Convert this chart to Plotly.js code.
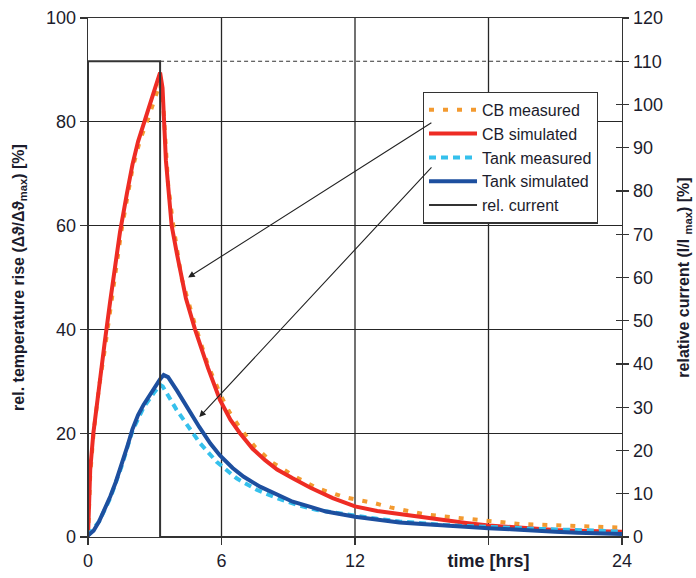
<!DOCTYPE html>
<html><head><meta charset="utf-8">
<script src="https://cdn.plot.ly/plotly-3.0.1.min.js"></script>
<style>body{margin:0;background:#fff}#chart{width:696px;height:578px}</style>
</head><body><div id="chart"></div>
<script>
// time [hrs] and relative temperature rise [%]
const cbMeasT = [0,0.1,0.25,0.5,0.75,1.0,1.5,2.0,2.34,2.71,3.09,3.24,3.4,3.6,3.8,4.2,4.8,5.4,6.0,6.38,6.9,7.5,8.3,9.4,10.3,11.5,12.2,12.9,13.6,14.4,15.1,15.7,16.4,17.4,18.1,18.7,19.4,20.1,20.8,21.6,22.1,22.9,23.5,24];
const cbMeasV = [0,12,20,29,36,44,59,71,76.5,80.7,85.2,87.5,82,68,61,50,41,33,27,23.9,20.6,17.4,14.3,11.4,9.4,7.7,7.1,6.5,5.7,5.0,4.4,4.1,3.8,3.4,3.1,2.8,2.5,2.4,2.3,2.1,2.1,2.1,1.9,1.8];

const cbSimT = [0,0.05,0.1,0.24,0.4,0.54,0.75,1.0,1.25,1.44,1.75,2.0,2.25,2.56,2.8,3.0,3.24,3.35,3.5,3.76,4.0,4.4,4.81,5.4,5.93,6.4,6.83,7.4,7.96,8.5,9.2,10,11,12,13,14,15,16,17,18,19,20,21,22,23,24];
const cbSimV = [0,8,13,20,26,30.5,37.5,45.5,53,58.8,66.2,71.8,76.2,80.6,83.7,86.3,89.5,86.5,72.6,60,54.5,46,40,32.5,26.4,22.6,20,17,14.8,13,11.3,9.5,7.5,5.9,5.0,4.4,3.9,3.3,2.7,2.2,1.9,1.6,1.35,1.2,1.1,1.0];

const tankMeasT = [0,0.5,1.0,1.5,2.0,2.5,3.0,3.24,3.36,3.98,5.03,5.78,6.68,7.58,8.48,9.38,10.3,11.2,12,13,14,15,16,17,18,19,20,21,22,23,24];
const tankMeasV = [0.3,3,7.5,13.5,20.5,25,28,29.3,29,24.5,18.1,14.5,11.3,9.1,7.5,6.2,5.2,4.6,4.1,3.5,3.0,2.6,2.3,2.1,2.0,1.8,1.6,1.5,1.4,1.2,1.0];

const tankSimT = [0,0.25,0.5,0.75,1.0,1.25,1.5,1.75,2.0,2.25,2.5,2.75,3.0,3.24,3.4,3.6,4.0,4.43,5.0,5.5,5.93,6.5,7.0,7.73,8.5,9.2,10,10.7,12,13,14,15,16,17,18,19,20,21,22,23,24];
const tankSimV = [0.3,1.2,3,5.3,7.8,10.6,13.8,17.2,20.8,23.5,25.5,27.2,28.8,30.4,31.2,30.8,28.2,25.1,21.2,18,15.7,13.3,11.6,9.7,8.1,6.8,5.8,4.9,3.9,3.3,2.8,2.5,2.2,1.9,1.7,1.5,1.2,1.0,0.8,0.7,0.6];

// relative current [%] (right axis)
const currentT = [0,0,3.24,3.24,24];
const currentV = [0,110,110,0,0];
const currentRefT = [3.24,24];
const currentRefV = [110,110];

// tick labels
const xTickVals = [0,6,12,18,24];
const xTickText = ['0','6','12','<b>time [hrs]</b>','24'];
const xGridVals = [6,12,18];
const yTickVals = [0,20,40,60,80,100];
const y2TickVals = [0,10,20,30,40,50,60,70,80,90,100,110,120];

// arrows: [tailT, tailV, headT, headV]
const arrowCB = [15.5,80,4.5,50];
const arrowTank = [15.5,71.5,5.0,23.1];

const FONT = 'Liberation Sans, Arial, sans-serif';
const TXT = '#1c1c2c';
const GRID = '#262626';

const traces = [
  {x: cbMeasT, y: cbMeasV, name: 'CB measured', mode: 'lines',
   line: {color: '#f39a30', width: 4, dash: '5px,9px'}},
  {x: cbSimT, y: cbSimV, name: 'CB simulated', mode: 'lines',
   line: {color: '#ee2c24', width: 4}},
  {x: tankMeasT, y: tankMeasV, name: 'Tank measured', mode: 'lines',
   line: {color: '#35c0ec', width: 4, dash: '7px,5px'}},
  {x: tankSimT, y: tankSimV, name: 'Tank simulated', mode: 'lines',
   line: {color: '#1d4f9f', width: 4}},
  {x: currentT, y: currentV, name: 'rel. current', mode: 'lines', yaxis: 'y2',
   line: {color: '#333', width: 2}},
  {x: currentRefT, y: currentRefV, showlegend: false, mode: 'lines', yaxis: 'y2',
   line: {color: '#333', width: 1, dash: '4px,3px'}},
  {x: [], y: [], showlegend: false, yaxis: 'y3'}
];

function arrow(a) {
  return {x: a[2], y: a[3], ax: a[0], ay: a[1], xref: 'x', yref: 'y', axref: 'x', ayref: 'y',
    text: '', showarrow: true, arrowhead: 2, arrowsize: 1.2, arrowwidth: 1.1, arrowcolor: '#222'};
}

const gridShapes = xGridVals.map(v => ({type: 'line', layer: 'below', xref: 'x', yref: 'paper',
  x0: v, x1: v, y0: 0, y1: 1, line: {color: GRID, width: 1.3}}));

const layout = {
  width: 696, height: 578,
  margin: {l: 88, r: 74, t: 18, b: 41},
  paper_bgcolor: '#fff', plot_bgcolor: '#fff',
  font: {family: FONT, color: TXT, size: 18},
  showlegend: true,
  legend: {x: 0.627, y: 0.858, xanchor: 'left', yanchor: 'top',
    bgcolor: '#fff', bordercolor: '#333', borderwidth: 1.2,
    font: {family: FONT, size: 16, color: TXT}, itemwidth: 48, tracegroupgap: 0},
  xaxis: {range: [0, 24], tickvals: xTickVals, ticktext: xTickText,
    showgrid: false,
    showline: true, linecolor: '#333', linewidth: 1.4, mirror: true,
    ticks: 'outside', ticklen: 7, tickcolor: '#333', tickwidth: 1.3,
    zeroline: false, tickfont: {size: 18, color: TXT}},
  yaxis: {range: [0, 100], tickvals: yTickVals,
    showgrid: true, gridcolor: GRID, gridwidth: 1.3,
    showline: true, linecolor: '#333', linewidth: 1.4,
    ticks: 'outside', ticklen: 7, tickcolor: '#333', tickwidth: 1.3,
    zeroline: false, tickfont: {size: 18, color: TXT},
    title: {text: '<b>rel. temperature rise (Δϑ/Δϑ<sub>max</sub>) [%]</b>', font: {size: 16, color: TXT}, standoff: 17}},
  yaxis2: {range: [0, 120], tickvals: y2TickVals, overlaying: 'y', side: 'right',
    showgrid: false, showline: true, linecolor: '#333', linewidth: 1.4,
    ticks: 'outside', ticklen: 6, tickcolor: '#333', tickwidth: 1.3,
    zeroline: false, tickfont: {size: 18, color: TXT},
    title: {text: '<b>relative current (I/I <sub>max</sub>) [%]</b>', font: {size: 16, color: TXT}, standoff: 15}},
  yaxis3: {range: [0, 120], tickvals: y2TickVals, overlaying: 'y', side: 'right',
    showgrid: false, showline: false, showticklabels: false,
    ticks: 'inside', ticklen: 6, tickcolor: '#333', tickwidth: 1.3, zeroline: false},
  shapes: gridShapes,
  annotations: [arrow(arrowCB), arrow(arrowTank)]
};

Plotly.newPlot('chart', traces, layout, {displayModeBar: false, staticPlot: true});
</script>
</body></html>
